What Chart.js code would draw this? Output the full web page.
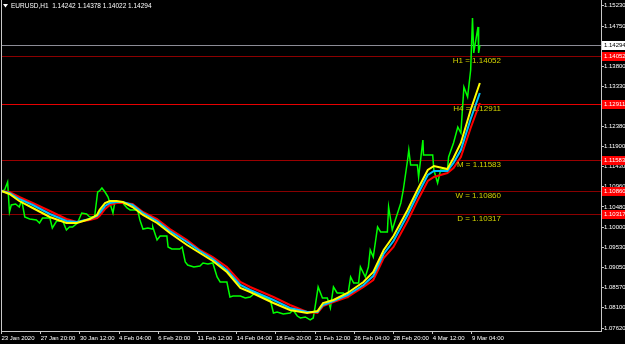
<!DOCTYPE html>
<html>
<head>
<meta charset="utf-8">
<script src="https://cdn.jsdelivr.net/npm/chart.js@4.4.1/dist/chart.umd.min.js"></script>
<style>
  html, body { margin: 0; padding: 0; background: #000; overflow: hidden; }
  canvas { display: block; }
</style>
</head>
<body>
<canvas id="c" width="625" height="344"></canvas>
<script>
const title = 'EURUSD,H1  1.14242 1.14378 1.14022 1.14294';

// time axis (bar index, H1 bars)
const timeTicks = [0, 64, 128, 192, 256, 320, 384, 448, 512, 576, 640, 704, 768];
const timeLabels = ['23 Jan 2020', '27 Jan 20:00', '30 Jan 12:00', '4 Feb 04:00', '6 Feb 20:00',
  '11 Feb 12:00', '14 Feb 04:00', '18 Feb 20:00', '21 Feb 12:00', '26 Feb 04:00',
  '28 Feb 20:00', '4 Mar 12:00', '9 Mar 04:00'];

const priceTicks = [1.07620, 1.08100, 1.08570, 1.09050, 1.09530, 1.10000, 1.10480, 1.10960,
  1.11430, 1.11900, 1.12380, 1.12860, 1.13330, 1.13800, 1.14280, 1.14750, 1.15230];

// pivot levels
const levelNames = ['H1', 'H4', 'M', 'W', 'D'];
const levelValues = [1.14052, 1.12911, 1.11583, 1.10860, 1.10317];
const lastPrice = 1.14294;

// price (close) trace
const closeBars = [0, 5, 10, 13, 16, 23, 29, 33, 38, 46, 57, 62, 67, 79, 83, 90, 100, 106, 111, 116,
  124, 131, 139, 144, 152, 157, 160, 164, 169, 172, 174, 177, 182, 185, 193, 198, 205, 210, 221, 223,
  226, 231, 239, 246, 247, 254, 259, 270, 272, 278, 291, 295, 300, 304, 314, 324, 329, 337, 345, 352,
  357, 368, 373, 378, 390, 398, 406, 414, 426, 439, 444, 450, 460, 471, 476, 483, 488, 496, 504, 509,
  512, 517, 524, 532, 537, 542, 548, 558, 565, 570, 575, 583, 586, 594, 599, 602, 607, 614, 619, 630,
  632, 638, 643, 652, 656, 663, 665, 668, 679, 681, 688, 689, 704, 706, 712, 717, 728, 730, 738, 745,
  750, 755, 761, 766, 769, 771, 778, 779, 781];
const closeVals = [1.10855, 1.10879, 1.11068, 1.10360, 1.10525, 1.10549, 1.10478, 1.10643, 1.10242, 1.10194,
  1.10171, 1.10100, 1.10218, 1.10218, 1.09982, 1.10147, 1.10147, 1.09935, 1.10006, 1.10006,
  1.10100, 1.10336, 1.10313, 1.10242, 1.10242, 1.10832, 1.10855, 1.10926, 1.10832, 1.10761,
  1.10714, 1.10572, 1.10336, 1.10596, 1.10596, 1.10572, 1.10454, 1.10407, 1.10407, 1.10360,
  1.10171, 1.09958, 1.09982, 1.09958, 1.10006, 1.09699, 1.09793, 1.09793, 1.09533, 1.09486,
  1.09486, 1.09533, 1.09179, 1.09108, 1.09061, 1.09085, 1.09156, 1.09132, 1.09156, 1.08825,
  1.08707, 1.08707, 1.08353, 1.08376, 1.08376, 1.08329, 1.08353, 1.08447, 1.08376, 1.08282,
  1.07975, 1.07999, 1.07952, 1.07975, 1.08046, 1.07904, 1.07857, 1.07881, 1.07810, 1.07857,
  1.08117, 1.08589, 1.08329, 1.08329, 1.08093, 1.08589, 1.08447, 1.08447, 1.08353, 1.08825,
  1.08683, 1.08683, 1.09061, 1.08825, 1.09061, 1.09463, 1.09297, 1.10006, 1.09888, 1.09888,
  1.10478, 1.09935, 1.10171, 1.10572, 1.10879, 1.11587, 1.11824, 1.11469, 1.11469, 1.11186,
  1.12060, 1.11705, 1.11705, 1.11351, 1.11044, 1.11351, 1.11351, 1.11658, 1.11989, 1.12367,
  1.12225, 1.13311, 1.13075, 1.13712, 1.14940, 1.14114, 1.14728, 1.14114, 1.14294];

// moving averages
const maBars = [0, 13, 29, 51, 79, 106, 123, 144, 156, 160, 169, 177, 188, 198, 214, 231, 254, 275, 303, 324,
  345, 368, 390, 406, 444, 471, 499, 516, 525, 542, 565, 591, 607, 624, 640, 663, 679, 696, 706, 728,
  738, 750, 766, 781];
const fastMa = [1.10855, 1.10785, 1.10619, 1.10454, 1.10242, 1.10100, 1.10100, 1.10194, 1.10289, 1.10407,
  1.10572, 1.10619, 1.10619, 1.10596, 1.10478, 1.10289, 1.10100, 1.09864, 1.09581, 1.09392,
  1.09203, 1.08943, 1.08565, 1.08471, 1.08211, 1.08046, 1.07975, 1.08022, 1.08211, 1.08282,
  1.08447, 1.08707, 1.08943, 1.09463, 1.09793, 1.10407, 1.10879, 1.11351, 1.11446, 1.11375,
  1.11635, 1.11989, 1.12768, 1.13405];
const midMa = [1.10855, 1.10808, 1.10667, 1.10525, 1.10313, 1.10147, 1.10124, 1.10194, 1.10265, 1.10336,
  1.10501, 1.10572, 1.10596, 1.10596, 1.10525, 1.10336, 1.10147, 1.09911, 1.09651, 1.09439,
  1.09250, 1.08990, 1.08636, 1.08518, 1.08282, 1.08093, 1.07999, 1.07999, 1.08164, 1.08258,
  1.08400, 1.08636, 1.08849, 1.09368, 1.09675, 1.10289, 1.10761, 1.11233, 1.11328, 1.11328,
  1.11517, 1.11824, 1.12555, 1.13169];
const slowMa = [1.10855, 1.10832, 1.10714, 1.10572, 1.10383, 1.10194, 1.10124, 1.10171, 1.10218, 1.10265,
  1.10430, 1.10525, 1.10572, 1.10572, 1.10549, 1.10360, 1.10194, 1.09958, 1.09699, 1.09463,
  1.09297, 1.09061, 1.08707, 1.08589, 1.08353, 1.08164, 1.07999, 1.07975, 1.08140, 1.08235,
  1.08353, 1.08589, 1.08754, 1.09274, 1.09533, 1.10147, 1.10619, 1.11092, 1.11186, 1.11281,
  1.11399, 1.11658, 1.12343, 1.12933];

const FONT = "'Liberation Sans', Arial, sans-serif";
const AXIS_SIZE = 6;
const levelColors = ['#8c0000', '#e60000', '#9a0000', '#880000', '#8c0000'];
const axisColor = '#c8c8c8';

const pts = (xs, ys) => xs.map((x, i) => ({ x, y: ys[i] }));
const line = (data, color, width) => ({
  data, borderColor: color, borderWidth: width, pointRadius: 0, tension: 0, fill: false,
});

const overlay = {
  id: 'overlay',
  beforeDatasetsDraw(chart) {
    const { ctx, chartArea: a, scales: { y } } = chart;
    ctx.save();
    ctx.lineWidth = 1;
    const hline = (v, color) => {
      const py = Math.round(y.getPixelForValue(v)) + 0.5;
      ctx.strokeStyle = color;
      ctx.beginPath(); ctx.moveTo(a.left, py); ctx.lineTo(a.right, py); ctx.stroke();
    };
    hline(lastPrice, '#8c8c96');
    levelValues.forEach((v, i) => hline(v, levelColors[i]));
    ctx.restore();
  },
  afterDatasetsDraw(chart) {
    const { ctx, scales: { y } } = chart;
    ctx.save();
    ctx.font = `8px ${FONT}`;
    ctx.fillStyle = '#d2d200';
    ctx.textAlign = 'right';
    ctx.textBaseline = 'middle';
    levelValues.forEach((v, i) => {
      ctx.fillText(`${levelNames[i]} = ${v.toFixed(5)}`, 501, y.getPixelForValue(v) + 5);
    });
    ctx.restore();
  },
  afterDraw(chart) {
    const { ctx, chartArea: a, scales: { y } } = chart;
    ctx.save();
    // left frame
    ctx.strokeStyle = axisColor;
    ctx.beginPath(); ctx.moveTo(1.5, a.top); ctx.lineTo(1.5, a.bottom); ctx.stroke();
    // price badges on the axis
    ctx.font = `${AXIS_SIZE}px ${FONT}`;
    ctx.textAlign = 'left';
    ctx.textBaseline = 'middle';
    const badge = (v, bg, fg) => {
      const py = Math.round(y.getPixelForValue(v));
      ctx.fillStyle = bg;
      ctx.fillRect(a.right + 1, py - 4, 24, 9);
      ctx.fillStyle = fg;
      ctx.fillText(v.toFixed(5), a.right + 3, py + 0.5);
    };
    levelValues.forEach(v => badge(v, '#ff0000', '#ffffff'));
    badge(lastPrice, '#ffffff', '#000000');
    // title
    ctx.fillStyle = '#ffffff';
    ctx.font = `6.5px ${FONT}`;
    ctx.beginPath(); ctx.moveTo(3, 4); ctx.lineTo(8, 4); ctx.lineTo(5.5, 7.5); ctx.closePath(); ctx.fill();
    ctx.fillText(title, 11, 6);
    ctx.restore();
  }
};

new Chart(document.getElementById('c'), {
  type: 'line',
  data: {
    datasets: [
      line(pts(maBars, fastMa), '#ffff00', 2),
      line(pts(maBars, midMa), '#00bfff', 2),
      line(pts(maBars, slowMa), '#ff0000', 2),
      line(pts(closeBars, closeVals), '#00ff00', 1.5),
    ]
  },
  options: {
    responsive: false, animation: false, devicePixelRatio: 1,
    layout: { padding: { left: 1, top: 0, right: 0, bottom: 0 } },
    plugins: { legend: { display: false }, tooltip: { enabled: false } },
    scales: {
      x: {
        type: 'linear', min: -0.8, max: 978.8,
        afterBuildTicks: s => { s.ticks = timeTicks.map(v => ({ value: v })); },
        afterFit: s => { s.height = 13; s.paddingLeft = 0; s.paddingRight = 0; },
        grid: { drawOnChartArea: false, drawTicks: true, tickLength: 3, color: axisColor },
        border: { display: true, color: axisColor },
        ticks: {
          autoSkip: false, maxRotation: 0, align: 'start', padding: 1,
          color: '#ffffff', font: { family: FONT, size: AXIS_SIZE },
          callback: v => timeLabels[timeTicks.indexOf(v)] ?? '',
        },
      },
      y: {
        type: 'linear', position: 'right', min: 1.07550, max: 1.15365,
        afterBuildTicks: s => { s.ticks = priceTicks.map(v => ({ value: v })); },
        afterFit: s => { s.width = 24; s.paddingTop = 0; s.paddingBottom = 0; },
        grid: { drawOnChartArea: false, drawTicks: true, tickLength: 3, color: axisColor },
        border: { display: true, color: axisColor },
        ticks: {
          padding: 0, color: '#ffffff', font: { family: FONT, size: AXIS_SIZE },
          callback: v => Number(v).toFixed(5),
        },
      },
    },
  },
  plugins: [overlay],
});
</script>
</body>
</html>
